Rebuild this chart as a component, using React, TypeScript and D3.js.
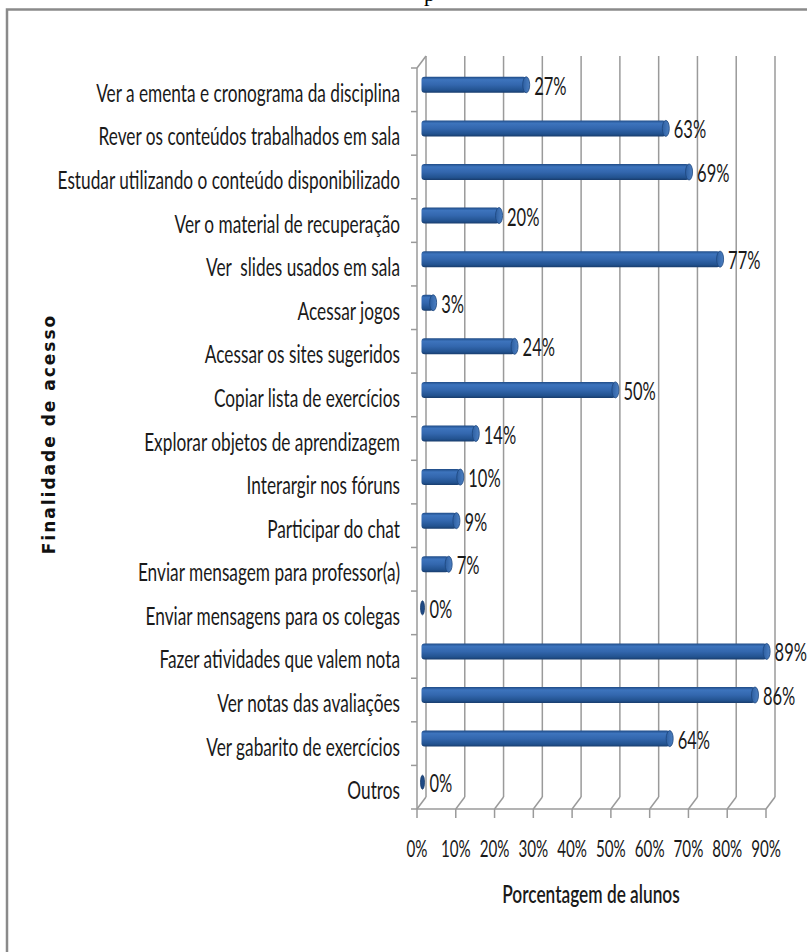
import React from "react";
import * as d3 from "d3";

const categories: string[] = [
  "Ver a ementa e cronograma da disciplina",
  "Rever os conteúdos trabalhados em sala",
  "Estudar utilizando o conteúdo disponibilizado",
  "Ver o material de recuperação",
  "Ver  slides usados em sala",
  "Acessar jogos",
  "Acessar os sites sugeridos",
  "Copiar lista de exercícios",
  "Explorar objetos de aprendizagem",
  "Interargir nos fóruns",
  "Participar do chat",
  "Enviar mensagem para professor(a)",
  "Enviar mensagens para os colegas",
  "Fazer atividades que valem nota",
  "Ver notas das avaliações",
  "Ver gabarito de exercícios",
  "Outros",
];
const values: number[] = [27, 63, 69, 20, 77, 3, 24, 50, 14, 10, 9, 7, 0, 89, 86, 64, 0];
const ticks: number[] = [0, 10, 20, 30, 40, 50, 60, 70, 80, 90];
const xTitle = "Porcentagem de alunos";
const yTitle = "Finalidade de acesso";

const W = 807;
const H = 952;
const DX = 9;
const DY = -12;
const FONT = "Lato, 'Open Sans', sans-serif";

function Cond({ x, y, anchor, size, weight, sx, children }: any) {
  return (
    <text
      transform={`translate(${x},${y}) scale(${sx},1)`}
      textAnchor={anchor}
      fontFamily={FONT}
      fontSize={size}
      fontWeight={weight || 400}
      fill="#1a1a1a"
      style={{ whiteSpace: "pre" }}
      xmlSpace="preserve"
    >
      {children}
    </text>
  );
}

export default function App() {
  const x = d3.scaleLinear().domain([0, 90]).range([417, 766]);
  const y = d3.scaleBand<string>().domain(categories).range([68, 809]).padding(0);
  const bw = y.bandwidth();
  const top = y.range()[0];
  const bottom = y.range()[1];
  const barH = 16;
  const grid = "#9a9a9a";

  return (
    <div style={{ position: "absolute", left: 0, top: 0, width: W, height: H, background: "#fff" }}>
      <svg width={W} height={H} viewBox={`0 0 ${W} ${H}`}>
        <defs>
          <linearGradient id="barGrad" x1="0" y1="0" x2="0" y2="1">
            <stop offset="0" stopColor="#1f4b86" />
            <stop offset="0.18" stopColor="#3d74bd" />
            <stop offset="0.5" stopColor="#3367ae" />
            <stop offset="0.85" stopColor="#22528f" />
            <stop offset="1" stopColor="#183c6c" />
          </linearGradient>
          <linearGradient id="capGrad" x1="0" y1="0" x2="1" y2="0">
            <stop offset="0" stopColor="#2d5fa2" />
            <stop offset="1" stopColor="#4d80c2" />
          </linearGradient>
        </defs>

        {/* fragment of caption above */}
        <text x={424} y={1} fontFamily="'Liberation Serif', serif" fontSize={22} fill="#000">p</text>

        {/* outer frame */}
        <path d={`M7,${H} V9.5 H${W}`} fill="none" stroke="#8a8a8a" strokeWidth={2.5} />

        {/* back wall gridlines */}
        {ticks.map((t) => (
          <g key={"g" + t}>
            <line x1={x(t) + DX} x2={x(t) + DX} y1={top + DY} y2={bottom + DY} stroke={grid} strokeWidth={1.5} />
            <line x1={x(t)} y1={bottom} x2={x(t) + DX} y2={bottom + DY} stroke={grid} strokeWidth={1.5} />
            <line x1={x(t)} x2={x(t)} y1={bottom} y2={bottom + 9} stroke={grid} strokeWidth={1.5} />
          </g>
        ))}
        <line x1={x(0)} x2={x(90)} y1={bottom} y2={bottom} stroke={grid} strokeWidth={1.5} />
        <line x1={x(0)} x2={x(0)} y1={top} y2={bottom} stroke={grid} strokeWidth={1.5} />
        <line x1={x(0)} y1={top} x2={x(0) + DX} y2={top + DY} stroke={grid} strokeWidth={1.5} />
        {d3.range(categories.length + 1).map((k) => (
          <line key={"ct" + k} x1={x(0) - 6} x2={x(0)} y1={top + k * bw} y2={top + k * bw} stroke={grid} strokeWidth={1.5} />
        ))}

        {/* bars */}
        {categories.map((c, i) => {
          const v = values[i];
          const cy = (y(c) as number) + bw / 2 + DY / 2 + 1;
          const x0 = x(0) + DX / 2;
          const x1 = x(v) + DX / 2;
          if (v === 0) {
            return (
              <ellipse key={c} cx={x0 + 1} cy={cy} rx={2} ry={7} fill="#1f4a85" stroke="#173a6a" strokeWidth={0.8} />
            );
          }
          return (
            <g key={c}>
              <rect x={x0} y={cy - barH / 2} width={Math.max(0, x1 - x0)} height={barH} rx={3} fill="url(#barGrad)" />
              <ellipse cx={x1} cy={cy} rx={3.5} ry={barH / 2} fill="url(#capGrad)" stroke="#1d467d" strokeWidth={0.8} />
            </g>
          );
        })}

        {/* value labels */}
        {categories.map((c, i) => {
          const v = values[i];
          const cy = (y(c) as number) + bw / 2 + DY / 2 + 1;
          const x1 = x(v) + DX / 2;
          return (
            <Cond key={"v" + c} x={x1 + 8} y={cy + 10} anchor="start" size={25} sx={0.66}>
              {v + "%"}
            </Cond>
          );
        })}

        {/* category labels */}
        {categories.map((c) => (
          <Cond key={"l" + c} x={400} y={(y(c) as number) + bw / 2 + 12} anchor="end" size={25} sx={0.69}>
            {c}
          </Cond>
        ))}

        {/* x tick labels */}
        {ticks.map((t) => (
          <Cond key={"t" + t} x={x(t)} y={857} anchor="middle" size={23} sx={0.66}>
            {t + "%"}
          </Cond>
        ))}

        {/* axis titles */}
        <Cond x={591} y={903} anchor="middle" size={24} weight={600} sx={0.72}>
          {xTitle}
        </Cond>
        <text
          transform={`translate(55,434) rotate(-90)`}
          textAnchor="middle"
          fontFamily="'DejaVu Sans', Verdana, sans-serif"
          fontWeight={700}
          fontSize={17}
          letterSpacing={2}
          fill="#111"
        >
          {yTitle}
        </text>
      </svg>
    </div>
  );
}
